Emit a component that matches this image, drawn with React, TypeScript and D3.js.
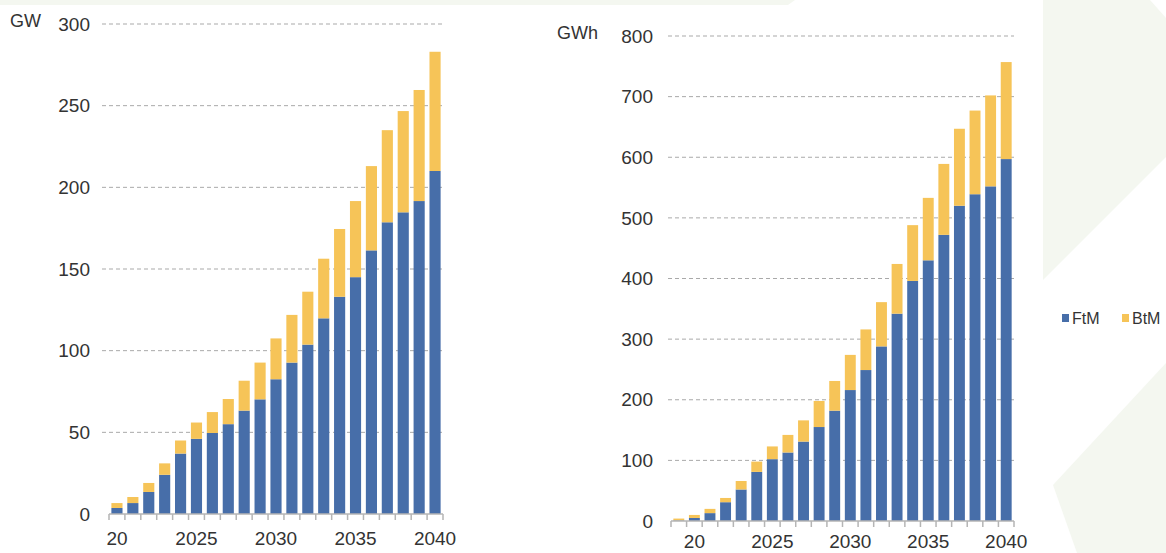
import * as d3 from "d3";

// left panel: power capacity, GW
const gwYears = [2020, 2021, 2022, 2023, 2024, 2025, 2026, 2027, 2028, 2029, 2030, 2031, 2032, 2033, 2034, 2035, 2036, 2037, 2038, 2039, 2040];
const gwFtM = [3.7, 6.7, 13.5, 24, 37, 46, 49.6, 55, 63.3, 70.2, 82.5, 92.7, 103.7, 119.8, 133, 145, 161.4, 178.6, 184.7, 191.6, 210];
const gwBtM = [3.0, 3.7, 5.5, 7, 8, 10, 12.8, 15.4, 18.3, 22.5, 25, 29.2, 32.4, 36.5, 41.5, 46.6, 51.6, 56.4, 62, 68, 73];
const gwTicks = [0, 50, 100, 150, 200, 250, 300];

// right panel: energy capacity, GWh
const gwhYears = [2019, 2020, 2021, 2022, 2023, 2024, 2025, 2026, 2027, 2028, 2029, 2030, 2031, 2032, 2033, 2034, 2035, 2036, 2037, 2038, 2039, 2040];
const gwhFtM = [1, 5, 13, 31, 52, 81, 102, 113, 131, 155, 182, 216, 249, 288, 342, 396, 430, 472, 520, 539, 552, 597];
const gwhBtM = [3, 5, 7, 7, 14, 17, 21, 29, 35, 43, 49, 58, 67, 73, 82, 92, 103, 117, 127, 138, 150, 160];
const gwhTicks = [0, 100, 200, 300, 400, 500, 600, 700, 800];

const yearLabels = [
  { year: 2020, text: "20" },
  { year: 2025, text: "2025" },
  { year: 2030, text: "2030" },
  { year: 2035, text: "2035" },
  { year: 2040, text: "2040" },
];

const legendItems = ["FtM", "BtM"];

const BLUE = "#476ea9";
const YELLOW = "#f6c458";
const BG = "#f4f7f0";
const FONT = "'Liberation Sans', Arial, sans-serif";

type PanelProps = {
  years: number[];
  ftm: number[];
  btm: number[];
  ticks: number[];
  unit: string;
  x0: number;
  x1: number;
  y0: number;
  y1: number;
  gridStart: number;
  labelRight: number;
  unitX: number;
  labelY: number;
};

const Panel = (p: PanelProps) => {
  const x = d3
    .scaleBand<number>()
    .domain(p.years)
    .range([p.x0, p.x1])
    .paddingInner(0.3)
    .paddingOuter(0.15);
  const yMax = p.ticks[p.ticks.length - 1];
  const y = d3.scaleLinear().domain([0, yMax]).range([p.y0, p.y1]);
  const step = x.step();
  const rows = p.years.map((yr, i) => ({ yr, f: p.ftm[i], b: p.btm[i] }));

  return (
    <g>
      {p.ticks.slice(1).map((t) => (
        <line
          key={"g" + t}
          x1={p.gridStart}
          x2={p.x1}
          y1={y(t)}
          y2={y(t)}
          stroke="#a9a9a9"
          strokeWidth={1}
          strokeDasharray="4 3"
        />
      ))}
      {p.ticks.map((t) => (
        <text
          key={"t" + t}
          x={p.labelRight}
          y={y(t)}
          dy="0.35em"
          textAnchor="end"
          fontSize={19}
          fill="#333"
          fontFamily={FONT}
        >
          {t}
        </text>
      ))}
      <text x={p.unitX} y={y(yMax) - 3} dy="0.35em" fontSize={18} fill="#333" fontFamily={FONT}>
        {p.unit}
      </text>
      {rows.map((d) => (
        <g key={d.yr}>
          <rect x={x(d.yr)} width={x.bandwidth()} y={y(d.f)} height={p.y0 - y(d.f)} fill={BLUE} />
          <rect x={x(d.yr)} width={x.bandwidth()} y={y(d.f + d.b)} height={y(d.f) - y(d.f + d.b)} fill={YELLOW} />
        </g>
      ))}
      <line x1={p.x0} x2={p.x1} y1={p.y0} y2={p.y0} stroke="#b5b5b5" strokeWidth={1.5} />
      {d3.range(p.years.length + 1).map((i) => (
        <line
          key={"k" + i}
          x1={p.x0 + i * step}
          x2={p.x0 + i * step}
          y1={p.y0}
          y2={p.y0 + 6}
          stroke="#b5b5b5"
          strokeWidth={1.5}
        />
      ))}
      {yearLabels.map((l) => (
        <text
          key={l.text}
          x={(x(l.year) || 0) + x.bandwidth() / 2}
          y={p.labelY}
          dy="0.35em"
          textAnchor="middle"
          fontSize={19}
          fill="#333"
          fontFamily={FONT}
        >
          {l.text}
        </text>
      ))}
    </g>
  );
};

export default function App() {
  return (
    <svg
      width={1166}
      height={553}
      style={{ position: "absolute", left: 0, top: 0, background: "#fff" }}
    >
      {/* decorative background shapes */}
      <polygon points="0,0 795,0 788,5 0,5" fill={BG} />
      <polygon points="1043,0 1150,0 1166,18 1166,157 1043,280" fill={BG} />
      <polygon points="1053,485 1166,363 1166,553 1077,553" fill={BG} />

      <Panel
        years={gwYears}
        ftm={gwFtM}
        btm={gwBtM}
        ticks={gwTicks}
        unit="GW"
        x0={109}
        x1={443}
        y0={514}
        y1={24}
        gridStart={102}
        labelRight={90}
        unitX={10}
        labelY={538}
      />
      <Panel
        years={gwhYears}
        ftm={gwhFtM}
        btm={gwhBtM}
        ticks={gwhTicks}
        unit="GWh"
        x0={671}
        x1={1014}
        y0={521}
        y1={36}
        gridStart={668}
        labelRight={653}
        unitX={557}
        labelY={541}
      />

      {legendItems.map((name, i) => (
        <g key={name} transform={`translate(${1062 + i * 60},318)`}>
          <rect x={0} y={-4} width={7} height={8} fill={i === 0 ? BLUE : YELLOW} />
          <text x={10} y={0} dy="0.35em" fontSize={16} fill="#333" fontFamily={FONT}>
            {name}
          </text>
        </g>
      ))}
    </svg>
  );
}
